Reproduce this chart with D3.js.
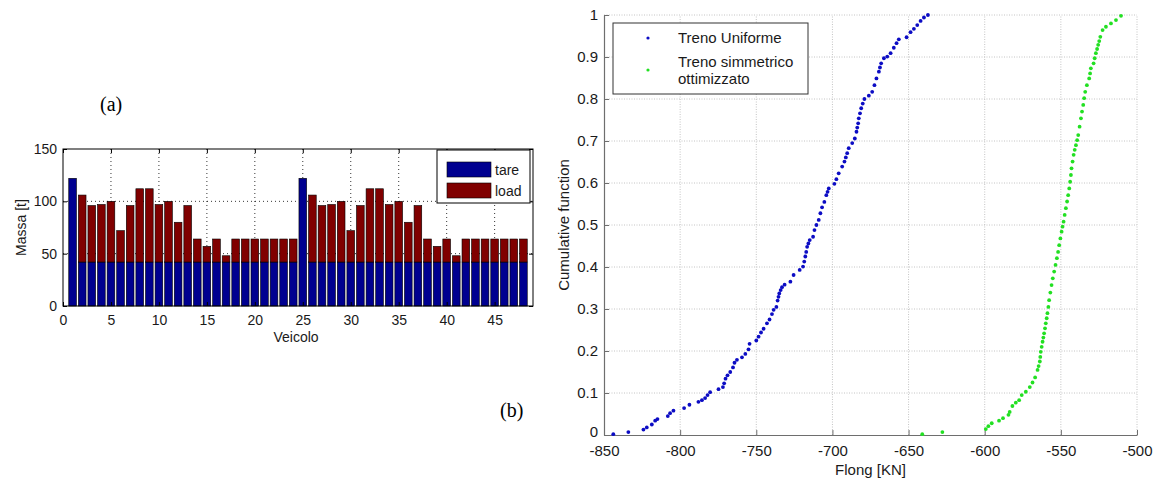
<!DOCTYPE html>
<html>
<head>
<meta charset="utf-8">
<script src="https://cdn.jsdelivr.net/npm/d3@7"></script>
<style>
  body { margin: 0; background: #fff; }
  svg { display: block; font-family: "Liberation Sans", Arial, sans-serif; }
</style>
</head>
<body>
<svg id="chart" width="1154" height="479"></svg>
<script>
// ---- (a) mass per vehicle [t]
const vehicles = d3.range(1, 49);
const tare = [122, 42, 42, 42, 42, 42, 42, 42, 42, 42, 42, 42, 42, 42, 42, 42, 42, 42, 42, 42, 42, 42, 42, 42,
              122, 42, 42, 42, 42, 42, 42, 42, 42, 42, 42, 42, 42, 42, 42, 42, 42, 42, 42, 42, 42, 42, 42, 42];
const load = [0, 64, 54, 55, 58, 30, 54, 70, 70, 55, 58, 38, 54, 22, 15, 22, 6, 22, 22, 22, 22, 22, 22, 22,
              0, 64, 54, 55, 58, 30, 54, 70, 70, 55, 58, 38, 54, 22, 15, 22, 6, 22, 22, 22, 22, 22, 22, 22];
const massTicks = [0, 50, 100, 150];
const vehicleTicks = [0, 5, 10, 15, 20, 25, 30, 35, 40, 45];

// ---- (b) cumulative function of Flong [KN], pairs [flong, cdf]
const uniforme = [
  [-843.9, 0.002], [-834.0, 0.007], [-824.1, 0.013], [-821.9, 0.018], [-818.6, 0.025], [-816.4, 0.034],
  [-814.9, 0.038], [-808.1, 0.045], [-806.6, 0.052], [-804.4, 0.058], [-797.4, 0.064], [-793.9, 0.072],
  [-788.0, 0.079], [-785.7, 0.083], [-783.6, 0.088], [-782.0, 0.095], [-780.3, 0.102], [-774.8, 0.109],
  [-771.9, 0.114], [-771.1, 0.123], [-770.2, 0.134], [-768.9, 0.142], [-767.1, 0.150], [-765.3, 0.161],
  [-764.3, 0.172], [-762.7, 0.179], [-759.4, 0.185], [-757.2, 0.193], [-755.1, 0.204], [-754.4, 0.217],
  [-750.0, 0.225], [-748.5, 0.234], [-746.9, 0.244], [-745.2, 0.253], [-743.0, 0.266], [-741.3, 0.275],
  [-739.7, 0.288], [-738.6, 0.298], [-736.8, 0.305], [-736.0, 0.320], [-735.4, 0.329], [-734.9, 0.337],
  [-734.0, 0.345], [-733.1, 0.352], [-731.4, 0.358], [-727.6, 0.365], [-725.5, 0.381], [-721.5, 0.393],
  [-719.3, 0.401], [-718.5, 0.413], [-717.8, 0.425], [-717.2, 0.436], [-716.6, 0.448], [-715.8, 0.456],
  [-714.9, 0.464], [-712.7, 0.472], [-711.8, 0.488], [-710.5, 0.500], [-709.0, 0.512], [-707.9, 0.528],
  [-706.8, 0.542], [-705.3, 0.555], [-704.0, 0.571], [-703.2, 0.579], [-702.4, 0.587], [-698.7, 0.598],
  [-697.4, 0.609], [-695.9, 0.623], [-693.6, 0.639], [-692.1, 0.651], [-691.2, 0.661], [-690.3, 0.671],
  [-689.3, 0.683], [-687.0, 0.695], [-685.3, 0.706], [-684.2, 0.722], [-683.7, 0.732], [-683.1, 0.742],
  [-682.7, 0.754], [-681.9, 0.766], [-681.1, 0.778], [-680.1, 0.789], [-679.0, 0.800], [-676.1, 0.808],
  [-673.9, 0.817], [-672.4, 0.833], [-671.1, 0.849], [-669.5, 0.865], [-668.8, 0.875], [-668.0, 0.885],
  [-666.2, 0.897], [-664.0, 0.901], [-661.8, 0.909], [-659.7, 0.922], [-657.9, 0.933], [-656.4, 0.942],
  [-651.3, 0.947], [-648.7, 0.959], [-646.5, 0.967], [-644.3, 0.976], [-642.1, 0.986], [-639.9, 0.994],
  [-637.3, 1.000]
];
const ottimizzato = [
  [-641.0, 0.002], [-627.8, 0.007], [-599.3, 0.014], [-597.6, 0.021], [-595.4, 0.028], [-590.6, 0.034],
  [-588.0, 0.040], [-584.4, 0.048], [-583.6, 0.055], [-581.8, 0.069], [-579.6, 0.077], [-577.4, 0.083],
  [-575.7, 0.095], [-573.0, 0.103], [-570.4, 0.114], [-568.6, 0.125], [-566.9, 0.137], [-565.3, 0.155],
  [-564.6, 0.164], [-563.8, 0.175], [-563.5, 0.186], [-563.2, 0.198], [-562.6, 0.210], [-562.0, 0.222],
  [-561.5, 0.232], [-561.0, 0.242], [-560.4, 0.254], [-559.9, 0.266], [-559.3, 0.278], [-558.8, 0.290],
  [-558.2, 0.305], [-557.7, 0.321], [-556.9, 0.339], [-556.1, 0.357], [-555.3, 0.373], [-554.4, 0.389],
  [-553.5, 0.405], [-552.6, 0.421], [-551.8, 0.436], [-551.1, 0.452], [-550.3, 0.468], [-549.5, 0.484],
  [-548.9, 0.496], [-548.2, 0.508], [-547.5, 0.524], [-546.7, 0.540], [-545.9, 0.556], [-545.2, 0.571],
  [-544.5, 0.587], [-543.9, 0.603], [-543.4, 0.619], [-543.0, 0.635], [-542.3, 0.651], [-541.6, 0.667],
  [-540.9, 0.679], [-540.1, 0.690], [-539.3, 0.702], [-538.6, 0.714], [-537.7, 0.734], [-536.8, 0.754],
  [-536.1, 0.770], [-535.3, 0.786], [-534.7, 0.802], [-534.0, 0.817], [-532.9, 0.833], [-531.4, 0.849],
  [-530.8, 0.861], [-530.3, 0.873], [-528.5, 0.885], [-527.8, 0.897], [-527.0, 0.909], [-526.2, 0.919],
  [-525.5, 0.929], [-524.8, 0.938], [-524.1, 0.948], [-522.6, 0.964], [-520.4, 0.972], [-517.1, 0.980],
  [-513.8, 0.988], [-510.5, 0.998]
];
const flongTicks = [-850, -800, -750, -700, -650, -600, -550, -500];
const cdfTicks = [0, 0.1, 0.2, 0.3, 0.4, 0.5, 0.6, 0.7, 0.8, 0.9, 1];

const svg = d3.select('#chart');
const plain = d => String(d);   // hyphen minus like the original, not U+2212

// style tick labels after d3.axis has set its own defaults
function styleTicks(sel, size) {
  sel.attr('font-size', null).attr('font-family', null);
  sel.selectAll('text')
    .style('font-size', size + 'px')
    .style('font-family', '"Liberation Sans", Arial, sans-serif')
    .attr('fill', '#1a1a1a');
}

// =================== (a) stacked bars
const xA = d3.scaleLinear().domain([0, 49]).range([63, 533]);
const yA = d3.scaleLinear().domain([0, 150]).range([306, 149]);
const colA = { tare: '#000090', load: '#800000' };

const ga = svg.append('g').attr('class', 'chart-a');

// dotted grid
ga.append('g').attr('class', 'grid--x')
  .selectAll('line').data(vehicleTicks.slice(1)).join('line')
  .attr('x1', d => xA(d)).attr('x2', d => xA(d))
  .attr('y1', yA(0)).attr('y2', yA(150))
  .attr('stroke', '#000').attr('stroke-width', 0.8).attr('stroke-dasharray', '1,3');
ga.append('g').attr('class', 'grid--y')
  .selectAll('line').data(massTicks.slice(1, -1)).join('line')
  .attr('x1', xA(0)).attr('x2', xA(49))
  .attr('y1', d => yA(d)).attr('y2', d => yA(d))
  .attr('stroke', '#000').attr('stroke-width', 0.8).attr('stroke-dasharray', '1,3');

const rows = vehicles.map((v, i) => ({ v, tare: tare[i], load: load[i] }));
const stacked = d3.stack().keys(['tare', 'load'])(rows);
const bw = (xA(0.8) - xA(0));

ga.append('g').attr('class', 'bars')
  .selectAll('g').data(stacked).join('g')
  .attr('fill', d => colA[d.key])
  .selectAll('rect').data(d => d.filter(s => s[1] > s[0])).join('rect')
  .attr('x', d => xA(d.data.v) - bw / 2)
  .attr('width', bw)
  .attr('y', d => yA(d[1]))
  .attr('height', d => yA(d[0]) - yA(d[1]))
  .attr('stroke', '#000').attr('stroke-width', 0.6);

// axes with inward ticks on all four sides
const axA = ga.append('g').attr('class', 'axis');
axA.append('g').attr('transform', `translate(0,${yA(0)})`)
  .call(d3.axisBottom(xA).tickValues(vehicleTicks).tickFormat(plain).tickSizeInner(-4).tickSizeOuter(0).tickPadding(9))
  .call(styleTicks, 14);
axA.append('g').attr('transform', `translate(0,${yA(150)})`)
  .call(d3.axisTop(xA).tickValues(vehicleTicks).tickSizeInner(-4).tickSizeOuter(0).tickFormat(''));
axA.append('g').attr('transform', `translate(${xA(0)},0)`)
  .call(d3.axisLeft(yA).tickValues(massTicks).tickFormat(plain).tickSizeInner(-4).tickSizeOuter(0).tickPadding(6))
  .call(styleTicks, 14);
axA.append('g').attr('transform', `translate(${xA(49)},0)`)
  .call(d3.axisRight(yA).tickValues(massTicks).tickSizeInner(-4).tickSizeOuter(0).tickFormat(''));
axA.selectAll('.domain').remove();
axA.selectAll('.tick line').attr('stroke', '#000');

ga.append('rect')
  .attr('x', xA(0)).attr('y', yA(150))
  .attr('width', xA(49) - xA(0)).attr('height', yA(0) - yA(150))
  .attr('fill', 'none').attr('stroke', '#000').attr('stroke-width', 1);

ga.append('text').attr('transform', `translate(21,${yA(75)}) rotate(-90)`)
  .attr('text-anchor', 'middle').attr('dy', '0.35em')
  .style('font-size', '14px').attr('fill', '#1a1a1a').text('Massa [t]');
ga.append('text').attr('x', (xA(0) + xA(49)) / 2 - 2).attr('y', 342)
  .attr('text-anchor', 'middle')
  .style('font-size', '14px').attr('fill', '#1a1a1a').text('Veicolo');

// legend
const legA = ga.append('g').attr('class', 'legend').attr('transform', 'translate(437,150)');
legA.append('rect').attr('width', 93).attr('height', 53)
  .attr('fill', '#fff').attr('stroke', '#000').attr('stroke-width', 1);
['tare', 'load'].forEach((k, i) => {
  legA.append('rect').attr('x', 10).attr('y', 12 + i * 21).attr('width', 44).attr('height', 15)
    .attr('fill', colA[k]).attr('stroke', '#000').attr('stroke-width', 0.6);
  legA.append('text').attr('x', 58).attr('y', 25 + i * 21)
    .style('font-size', '14px').attr('fill', '#1a1a1a').text(k);
});

svg.append('text').attr('x', 100).attr('y', 111)
  .style('font-family', '"Liberation Serif", "Times New Roman", serif').style('font-size', '20px')
  .text('(a)');

// =================== (b) cumulative scatter
const xB = d3.scaleLinear().domain([-850, -500]).range([604, 1137]);
const yB = d3.scaleLinear().domain([0, 1]).range([435, 15]);
const gb = svg.append('g').attr('class', 'chart-b');

gb.append('g').attr('class', 'grid--x')
  .selectAll('line').data(flongTicks.slice(1)).join('line')
  .attr('x1', d => xB(d)).attr('x2', d => xB(d))
  .attr('y1', yB(0)).attr('y2', yB(1))
  .attr('stroke', '#c4c4c4').attr('stroke-width', 1).attr('stroke-dasharray', '1,1.5');
gb.append('g').attr('class', 'grid--y')
  .selectAll('line').data(cdfTicks.slice(1)).join('line')
  .attr('x1', xB(-850)).attr('x2', xB(-500))
  .attr('y1', d => yB(d)).attr('y2', d => yB(d))
  .attr('stroke', '#c4c4c4').attr('stroke-width', 1).attr('stroke-dasharray', '1,1.5');

const axB = gb.append('g').attr('class', 'axis');
axB.append('g').attr('transform', `translate(0,${yB(0)})`)
  .call(d3.axisBottom(xB).tickValues(flongTicks).tickFormat(plain).tickSizeInner(-5).tickSizeOuter(0).tickPadding(10))
  .call(styleTicks, 15);
axB.append('g').attr('transform', `translate(${xB(-850)},0)`)
  .call(d3.axisLeft(yB).tickValues(cdfTicks).tickFormat(plain).tickSizeInner(-5).tickSizeOuter(0).tickPadding(6))
  .call(styleTicks, 15);
// lift the "0" label a little so it clears the first x label
axB.selectAll('.tick text').filter(d => d === 0).attr('dy', '0.12em');
axB.selectAll('.domain').attr('stroke', '#6e6e6e').attr('stroke-width', 1.2);
axB.selectAll('.tick line').attr('stroke', '#6e6e6e');

const series = [
  { name: 'Treno Uniforme', color: '#0c0cc4', pts: uniforme },
  { name: 'Treno simmetrico ottimizzato', color: '#22e022', pts: ottimizzato }
];
gb.append('g').attr('class', 'points')
  .selectAll('g').data(series).join('g')
  .attr('fill', d => d.color)
  .selectAll('circle').data(d => d.pts).join('circle')
  .attr('cx', d => xB(d[0])).attr('cy', d => yB(d[1])).attr('r', 1.9);

gb.append('text').attr('transform', `translate(564,${yB(0.5)}) rotate(-90)`)
  .attr('text-anchor', 'middle').attr('dy', '0.35em')
  .style('font-size', '15px').attr('fill', '#1a1a1a').text('Cumulative function');
gb.append('text').attr('x', (xB(-850) + xB(-500)) / 2).attr('y', 475)
  .attr('text-anchor', 'middle')
  .style('font-size', '15px').attr('fill', '#1a1a1a').text('Flong [KN]');

const legB = gb.append('g').attr('class', 'legend').attr('transform', 'translate(613,23)');
legB.append('rect').attr('width', 195).attr('height', 71)
  .attr('fill', '#fff').attr('stroke', '#333').attr('stroke-width', 1);
legB.append('circle').attr('cx', 35).attr('cy', 15).attr('r', 1.6).attr('fill', series[0].color);
legB.append('circle').attr('cx', 35).attr('cy', 47).attr('r', 1.6).attr('fill', series[1].color);
legB.append('text').attr('x', 65).attr('y', 20).style('font-size', '15px').attr('fill', '#1a1a1a').text('Treno Uniforme');
legB.append('text').attr('x', 65).attr('y', 44).style('font-size', '15px').attr('fill', '#1a1a1a').text('Treno simmetrico');
legB.append('text').attr('x', 65).attr('y', 61).style('font-size', '15px').attr('fill', '#1a1a1a').text('ottimizzato');

svg.append('text').attr('x', 500).attr('y', 417)
  .style('font-family', '"Liberation Serif", "Times New Roman", serif').style('font-size', '20px')
  .text('(b)');
</script>
</body>
</html>
